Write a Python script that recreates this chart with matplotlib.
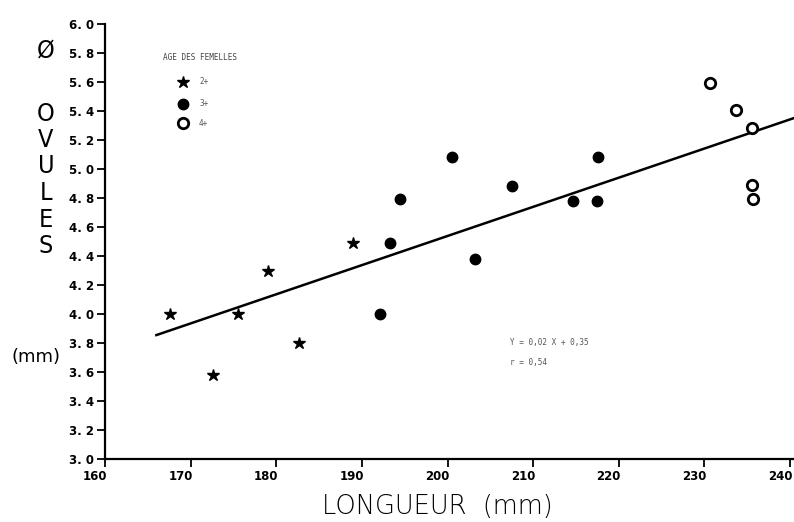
import matplotlib
matplotlib.use("Agg")
import matplotlib.pyplot as plt
import matplotlib.transforms as mtransforms
import numpy as np

# ---- data ----
age2_x = [167.6, 172.6, 175.5, 179.0, 182.7, 189.0]
age2_y = [4.00, 3.58, 4.00, 4.30, 3.80, 4.49]

age3_x = [192.1, 193.3, 194.5, 200.5, 203.2, 207.5, 214.6, 217.6, 217.5]
age3_y = [4.00, 4.49, 4.79, 5.08, 4.38, 4.88, 4.78, 5.08, 4.78]

age4_x = [230.6, 233.7, 235.6, 235.6, 235.7]
age4_y = [5.59, 5.41, 5.28, 4.89, 4.79]

reg_slope = 0.0201
reg_intercept = 0.518
reg_x = [166.0, 240.5]

x_ticks = [160, 170, 180, 190, 200, 210, 220, 230, 240]
x_ticklabels = ["160", "170", "180", "190", "200", "210", "220", "230", "240"]
y_ticks = [3.0, 3.2, 3.4, 3.6, 3.8, 4.0, 4.2, 4.4, 4.6, 4.8, 5.0, 5.2, 5.4, 5.6, 5.8, 6.0]
y_ticklabels = ["3. 0", "3. 2", "3. 4", "3. 6", "3. 8", "4. 0", "4. 2", "4. 4",
                "4. 6", "4. 8", "5. 0", "5. 2", "5. 4", "5. 6", "5. 8", "6. 0"]

legend_title = "AGE DES FEMELLES"
legend_labels = ["2+", "3+", "4+"]
eq_text = "Y = 0,02 X + 0,35"
r_text = "r = 0,54"

# ---- figure ----
W, H = 794, 522
fig = plt.figure(figsize=(W / 100, H / 100), dpi=100)
ax = fig.add_axes([105 / W, (H - 459) / H, 689.3 / W, 435 / H])
ax.set_xlim(160, 240.5)
ax.set_ylim(3.0, 6.0)

for s in ["top", "right"]:
    ax.spines[s].set_visible(False)
for s in ["left", "bottom"]:
    ax.spines[s].set_linewidth(1.6)
    ax.spines[s].set_color("black")

ax.set_xticks(x_ticks)
ax.set_xticklabels(x_ticklabels, fontsize=8.5, fontweight="bold")
ax.set_yticks(y_ticks)
ax.set_yticklabels(y_ticklabels, fontsize=8.5, fontweight="bold")
ax.tick_params(axis="both", direction="out", length=6, width=1.3, color="black")
ax.tick_params(axis="x", pad=2)
ax.tick_params(axis="y", pad=2)

# x tick labels sit slightly left of their ticks, as in the reference
shift = mtransforms.ScaledTranslation(-10 / 100, 0, fig.dpi_scale_trans)
for lab in ax.get_xticklabels():
    lab.set_transform(lab.get_transform() + shift)

# regression line
rx = np.array(reg_x)
ax.plot(rx, reg_slope * rx + reg_intercept, color="black", lw=1.8, zorder=2)

# points
ax.plot(age2_x, age2_y, ls="none", marker="*", ms=9, color="black", zorder=3)
ax.plot(age3_x, age3_y, ls="none", marker="o", ms=7.5, color="black", zorder=3)
ax.plot(age4_x, age4_y, ls="none", marker="o", ms=7.5, mfc="white", mec="black",
        mew=2, zorder=3)

# legend (manual, figure pixel coords)
def fx(px):
    return px / W

def fy(py):
    return 1 - py / H

fig.text(fx(163), fy(58), legend_title, fontsize=5.5, family="DejaVu Sans Mono",
         color="#444444", va="center", ha="left")
leg_rows = [82, 104, 123]
leg_kw = [dict(marker="*", ms=9, color="black"),
          dict(marker="o", ms=7.5, color="black"),
          dict(marker="o", ms=7.5, mfc="white", mec="black", mew=2)]
for py, lab, kw in zip(leg_rows, legend_labels, leg_kw):
    fig.add_artist(plt.Line2D([fx(183)], [fy(py)], ls="none", transform=fig.transFigure, **kw))
    fig.text(fx(199), fy(py), lab, fontsize=5.5, family="DejaVu Sans Mono",
             color="#555555", va="center", ha="left")

# equation text
fig.text(fx(510), fy(343), eq_text, fontsize=5.5, family="DejaVu Sans Mono",
         color="#555555", va="center", ha="left")
fig.text(fx(510), fy(363), r_text, fontsize=5.5, family="DejaVu Sans Mono",
         color="#555555", va="center", ha="left")

# vertical y-label letters
letters = ["Ø", "O", "V", "U", "L", "E", "S"]
letter_y = [50, 114, 140, 166, 193, 220, 246]
for ch, py in zip(letters, letter_y):
    fig.text(fx(46), fy(py), ch, fontsize=18, fontweight="light", ha="center",
             va="center", color="black", fontstretch="condensed")
fig.text(fx(36), fy(357), "(mm)", fontsize=13, ha="center", va="center", color="black")

# x label
fig.text(fx(437), fy(507), "LONGUEUR  (mm)", fontsize=18.5, fontweight="light",
         ha="center", va="center", color="black")

fig.savefig("out.png", dpi=100)
